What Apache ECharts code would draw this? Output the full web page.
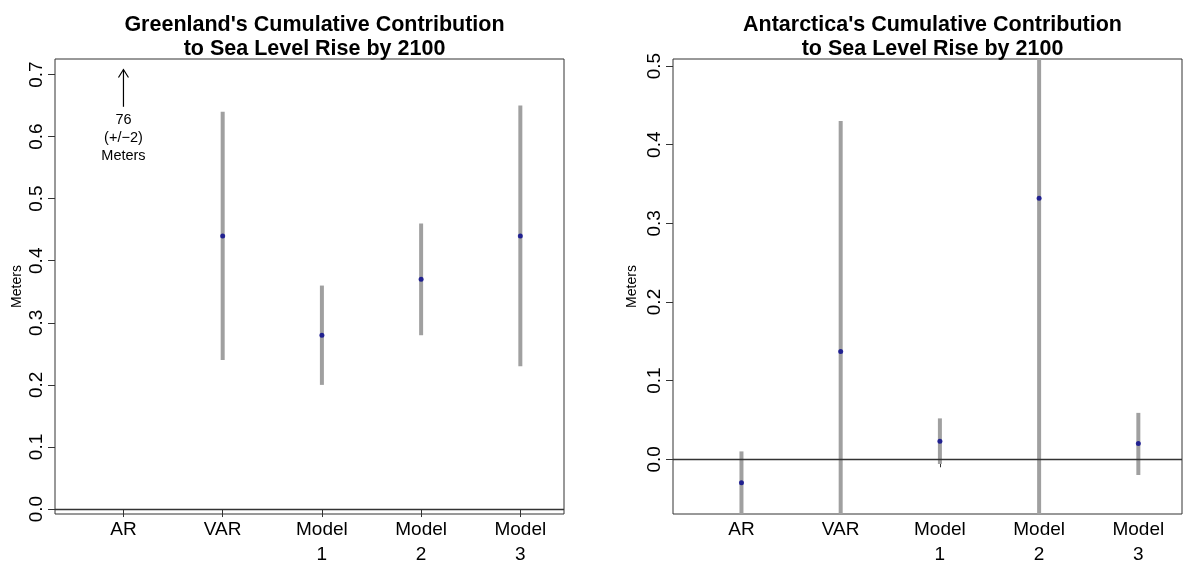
<!DOCTYPE html>
<html><head><meta charset="utf-8">
<script src="https://cdn.jsdelivr.net/npm/echarts@6/dist/echarts.min.js"></script>
<style>html,body{margin:0;padding:0;background:#fff}#c{width:1183px;height:567px}</style>
</head><body><div id="c"></div>
<script>
// ---- data ----
const categories = ['AR', 'VAR', 'Model\n1', 'Model\n2', 'Model\n3'];
const categoryPos = [1, 2, 3, 4, 5];
const greenlandMid  = [null, 0.44, 0.28, 0.37, 0.44];
const greenlandLow  = [null, 0.24, 0.20, 0.28, 0.23];
const greenlandHigh = [null, 0.64, 0.36, 0.46, 0.65];
const antarcticaMid  = [-0.03, 0.137, 0.023, 0.332, 0.02];
const antarcticaLow  = [-0.10, -0.10, -0.006, -0.10, -0.02];
const antarcticaHigh = [0.01, 0.43, 0.052, 0.60, 0.059];
const greenlandTicks  = [0, 0.1, 0.2, 0.3, 0.4, 0.5, 0.6, 0.7];
const antarcticaTicks = [0, 0.1, 0.2, 0.3, 0.4, 0.5];
const annotationLines = ['76', '(+/\u22122)', 'Meters'];
const annotationX = 1;
const arrowFrom = 0.648, arrowTo = 0.708, annotationTextY = 0.597;

const FONT = "'Liberation Sans', Arial, Helvetica, sans-serif";
const rangesOf = (lo, hi) => categoryPos.map((x, i) => [x, lo[i], hi[i]]).filter(d => d[1] != null);
const pointsOf = (mid) => categoryPos.map((x, i) => [x, mid[i]]).filter(d => d[1] != null);

function rangeItem(params, api) {
  const x = api.value(0), lo = api.value(1), hi = api.value(2);
  const p1 = api.coord([x, lo]), p2 = api.coord([x, hi]);
  const cs = params.coordSys;
  const y1 = Math.min(p1[1], cs.y + cs.height), y2 = Math.max(p2[1], cs.y);
  return { type: 'line', shape: { x1: p1[0], y1: y1, x2: p2[0], y2: y2 },
           style: { stroke: '#a0a0a0', lineWidth: 4 } };
}

function xAxisCfg(idx) {
  return {
    type: 'value', gridIndex: idx, min: 0.31, max: 5.44,
    axisLine: { show: false }, splitLine: { show: false },
    axisTick: { show: true, length: 8, customValues: categoryPos, lineStyle: { color: '#333' } },
    axisLabel: { customValues: categoryPos, margin: 3, fontFamily: FONT, fontSize: 19, color: '#000',
      lineHeight: 25, formatter: v => categories[Math.round(v) - 1] || '' }
  };
}
function yAxisCfg(idx, min, max, ticks, gap) {
  return {
    type: 'value', gridIndex: idx, min: min, max: max,
    name: 'Meters', nameLocation: 'middle', nameRotate: 90, nameGap: gap,
    nameTextStyle: { fontFamily: FONT, fontSize: 14, color: '#000' },
    axisLine: { show: false }, splitLine: { show: false },
    axisTick: { show: true, length: 7, customValues: ticks, lineStyle: { color: '#333' } },
    axisLabel: { customValues: ticks, rotate: 90, margin: 9, fontFamily: FONT, fontSize: 19, color: '#000',
      formatter: v => v.toFixed(1) }
  };
}
const zeroLine = {
  silent: true, symbol: 'none', label: { show: false },
  lineStyle: { color: '#333', width: 1.3, type: 'solid' }, data: [{ yAxis: 0 }]
};
const titleStyle = { fontFamily: FONT, fontSize: 21.5, fontWeight: 'bold', color: '#000', lineHeight: 24 };

const chart = echarts.init(document.getElementById('c'), null, { renderer: 'canvas' });
chart.setOption({
  animation: false,
  backgroundColor: '#fff',
  title: [
    { text: "Greenland's Cumulative Contribution\nto Sea Level Rise by 2100", left: 309.5, top: 8, textAlign: 'center',
      textStyle: titleStyle },
    { text: "Antarctica's Cumulative Contribution\nto Sea Level Rise by 2100", left: 927.5, top: 8, textAlign: 'center',
      textStyle: titleStyle }
  ],
  grid: [
    { left: 55, right: 619, top: 59, bottom: 53, show: true, borderColor: '#333', borderWidth: 1, backgroundColor: '#fff' },
    { left: 673, right: 1, top: 59, bottom: 53, show: true, borderColor: '#333', borderWidth: 1, backgroundColor: '#fff' }
  ],
  xAxis: [xAxisCfg(0), xAxisCfg(1)],
  yAxis: [yAxisCfg(0, -0.008, 0.725, greenlandTicks, 31), yAxisCfg(1, -0.0696, 0.509, antarcticaTicks, 34)],
  series: [
    { type: 'custom', xAxisIndex: 0, yAxisIndex: 0, renderItem: rangeItem, encode: { x: 0, y: [1, 2] },
      data: rangesOf(greenlandLow, greenlandHigh), markLine: zeroLine, z: 2 },
    { type: 'scatter', xAxisIndex: 0, yAxisIndex: 0, data: pointsOf(greenlandMid), symbolSize: 5,
      itemStyle: { color: '#00008b' }, z: 3 },
    { type: 'custom', xAxisIndex: 1, yAxisIndex: 1, renderItem: rangeItem, encode: { x: 0, y: [1, 2] },
      data: rangesOf(antarcticaLow, antarcticaHigh), markLine: zeroLine, z: 2 },
    { type: 'scatter', xAxisIndex: 1, yAxisIndex: 1, data: pointsOf(antarcticaMid), symbolSize: 5,
      itemStyle: { color: '#00008b' }, z: 3 },
    { type: 'custom', xAxisIndex: 0, yAxisIndex: 0, z: 4,
      data: [[annotationX, arrowFrom, arrowTo, annotationTextY]],
      renderItem: function (params, api) {
        const a = api.coord([api.value(0), api.value(1)]);
        const b = api.coord([api.value(0), api.value(2)]);
        const t = api.coord([api.value(0), api.value(3)]);
        return { type: 'group', children: [
          { type: 'line', shape: { x1: a[0], y1: a[1], x2: b[0], y2: b[1] }, style: { stroke: '#000', lineWidth: 1.2 } },
          { type: 'polyline', shape: { points: [[b[0] - 5, b[1] + 8], [b[0], b[1]], [b[0] + 5, b[1] + 8]] },
            style: { stroke: '#000', lineWidth: 1.2, fill: null } },
          { type: 'text', x: t[0], y: t[1], style: { text: annotationLines.join('\n'), fontFamily: FONT, fontSize: 14.5,
            lineHeight: 18, fill: '#000', align: 'center', verticalAlign: 'middle' } }
        ] };
      } }
  ]
});
</script></body></html>
